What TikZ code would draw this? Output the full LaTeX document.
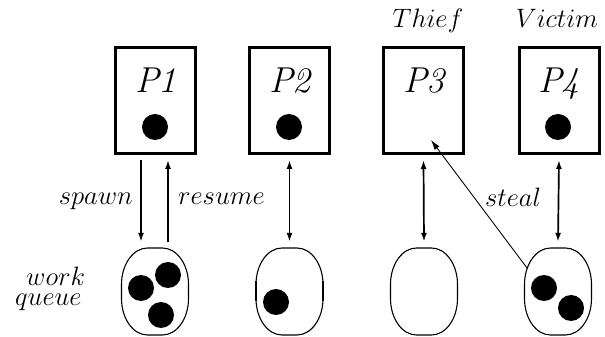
\documentclass[tikz,border=0pt]{standalone}
\usetikzlibrary{arrows.meta}
\tikzset{
  x=1pt, y=1pt,
  proc/.style={draw, line width=3pt, minimum width=80pt, minimum height=106pt, inner sep=0pt},
  plabel/.style={anchor=base, inner sep=0pt, font=\fontsize{36}{36}\selectfont\itshape},
  tlabel/.style={anchor=base, inner sep=0pt, font=\fontsize{24.88}{25}\selectfont, scale=1.07, transform shape},
  task/.style={circle, fill=black, minimum size=26pt, inner sep=0pt},
  qnode/.style={minimum width=67pt, minimum height=87pt, inner sep=0pt},
  link/.style={line width=1.7pt, -{Latex[length=9pt,width=6pt]}},
  dlink/.style={line width=1.7pt, {Latex[length=9pt,width=6pt]}-{Latex[length=9pt,width=6pt]}},
  thin link/.style={line width=0.9pt, -{Latex[length=10pt,width=6pt]}},
  pics/queue/.style={code={
    \draw[line width=1.1pt] (-33.5,-7) -- (-33.5,7)
      arc[start angle=180,end angle=90,x radius=26,y radius=36.5] -- (7.5,43.5)
      arc[start angle=90,end angle=0,x radius=26,y radius=36.5] -- (33.5,-7)
      arc[start angle=0,end angle=-90,x radius=26,y radius=36.5] -- (-7.5,-43.5)
      arc[start angle=-90,end angle=-180,x radius=26,y radius=36.5] -- cycle;
    \draw[line width=1.9pt] (-33.5,-10) -- (-33.5,10) (33.5,-10) -- (33.5,10);
  }}
}
\begin{document}
\begin{tikzpicture}
\useasboundingbox (0,0) rectangle (605,337);
% processors
\node[proc] (p1) at (155,236.5) {};
\node[proc] (p2) at (289.5,236.5) {};
\node[proc] (p3) at (423.5,236.5) {};
\node[proc] (p4) at (559,236.5) {};
\node[plabel] (l1) at (156,244.5) {P1};
\node[plabel] (l2) at (290,244.5) {P2};
\node[plabel] (l3) at (424,244.5) {P3};
\node[plabel] (l4) at (559,244.5) {P4};
\node[task] (d1) at (155,210) {};
\node[task] (d2) at (289,210) {};
\node[task] (d4) at (558,210) {};
\node[tlabel] (thief) at (428,309) {$Thief$};
\node[tlabel] (victim) at (557,309) {$Victim$};
% queues
\node[qnode] (q1) at (155,45.5) {};
\node[qnode] (q2) at (289.5,45.5) {};
\node[qnode] (q3) at (424,45.5) {};
\node[qnode] (q4) at (558,45.5) {};
\pic at (q1) {queue};
\pic at (q2) {queue};
\pic at (q3) {queue};
\pic at (q4) {queue};
\node[task] (t11) at (141,49) {};
\node[task] (t12) at (168,62) {};
\node[task] (t13) at (161,22) {};
\node[task] (t21) at (276,35) {};
\node[task] (t41) at (544,49) {};
\node[task] (t42) at (571,29) {};
% connectors
\draw[link] ([xshift=-14pt,yshift=-5pt]p1.south) -- ([xshift=-14pt,yshift=6pt]q1.north);
\draw[link] ([xshift=13pt,yshift=6pt]q1.north) -- ([xshift=13pt,yshift=-5pt]p1.south);
\draw[dlink] ([yshift=-5pt]p2.south) -- ([yshift=6pt]q2.north);
\draw[dlink] ([yshift=-5pt]p3.south) -- ([yshift=6pt]q3.north);
\draw[dlink] ([yshift=-5pt]p4.south) -- ([yshift=6pt]q4.north);
\coordinate (sfrom) at ([xshift=-31pt,yshift=23.5pt]q4.center);
\coordinate (sto) at ([xshift=7.5pt,yshift=-39.5pt]p3.center);
\draw[thin link] (sfrom) -- (sto);
% labels
\node[tlabel, anchor=base east] (spawn) at (133,132) {$spawn$};
\node[tlabel, anchor=base west] (resume) at (178,132) {$resume$};
\node[tlabel, anchor=base west] (steal) at (485,130) {$steal$};
\node[tlabel, anchor=base west] (work) at (26,51) {$work$};
\node[tlabel, anchor=base west] (queue) at (15,31) {$queue$};
\end{tikzpicture}
\end{document}
